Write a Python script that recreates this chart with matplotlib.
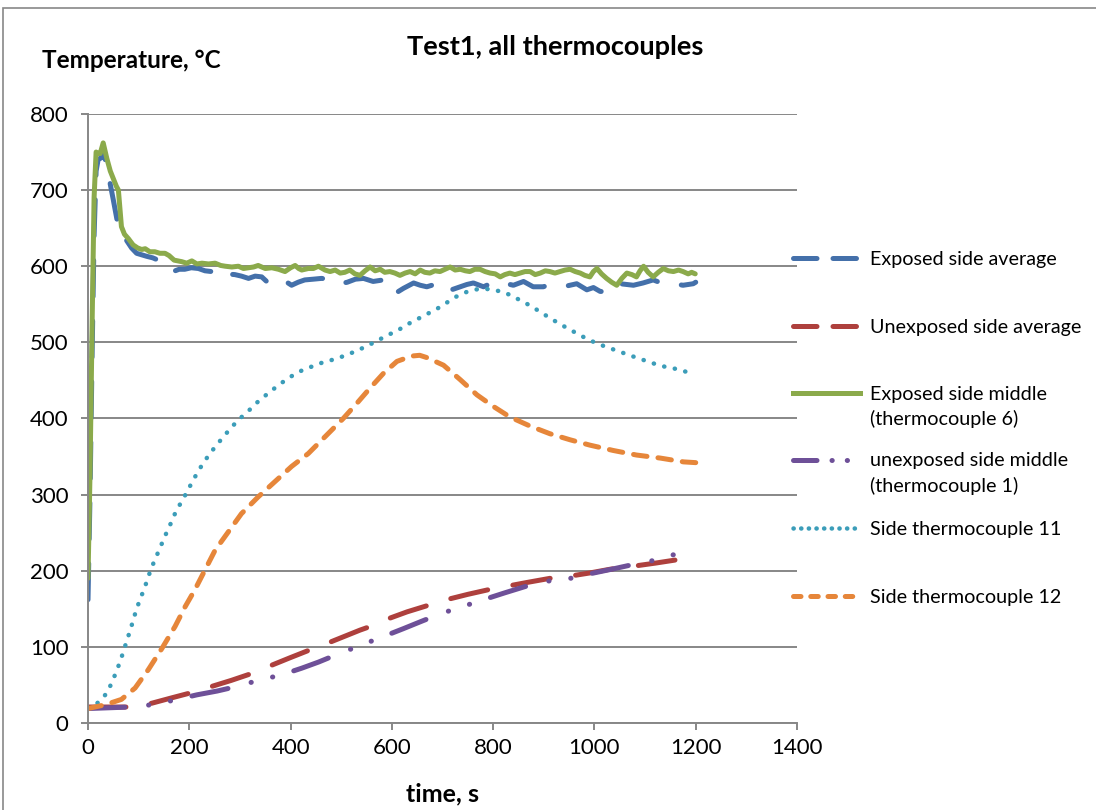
import numpy as np
import matplotlib
matplotlib.use("Agg")
import matplotlib.pyplot as plt
from matplotlib.lines import Line2D
from matplotlib.patches import Rectangle

plt.rcParams['font.family'] = ['Lato', 'DejaVu Sans']

# --- data ---
exp_avg_t = [0, 4, 8, 12, 16, 20, 25, 30, 37, 43, 50, 57, 63, 70, 76, 86, 96, 106, 116, 128,
             142, 155, 168, 180, 191, 204, 218, 231, 244, 257, 270, 290, 303, 317, 330, 343,
             356, 369, 382, 395, 402, 415, 428, 445, 461, 478, 498, 512, 528, 544, 563, 583,
             595, 606, 623, 643, 656, 669, 689, 708, 722, 735, 748, 761, 781, 794, 807, 820,
             840, 860, 879, 899, 912, 925, 945, 965, 985, 998, 1011, 1024, 1037, 1051, 1064,
             1077, 1096, 1116, 1136, 1156, 1175, 1195, 1200]
exp_avg_T = [162, 300, 480, 640, 725, 740, 742, 752, 731, 711, 687, 662, 643, 638, 634, 624,
             617, 615, 613, 611, 607, 603, 593, 596, 596, 598, 597, 594, 593, 586, 590, 589,
             587, 584, 587, 586, 578, 582, 583, 578, 575, 579, 582, 583, 584, 583, 577, 579,
             583, 584, 580, 582, 572, 564, 571, 578, 575, 573, 577, 567, 570, 573, 576, 578,
             573, 577, 580, 578, 575, 580, 573, 573, 576, 575, 574, 577, 569, 572, 567, 566,
             567, 577, 576, 575, 578, 582, 577, 577, 575, 577, 579]

unexp_avg_t = [0, 83, 126, 165, 205, 244, 283, 323, 363, 400, 438, 481, 537, 554, 593, 630,
               669, 708, 750, 790, 830, 870, 912, 952, 990, 1031, 1077, 1120, 1159]
unexp_avg_T = [21, 21, 26, 33, 40, 48, 56, 65, 76, 86, 96, 107, 122, 126, 137, 146, 154, 162,
               169, 175, 180, 185, 190, 193, 197, 202, 206, 210, 214]

exp_mid_t = [0, 4, 8, 12, 16, 20, 24, 30, 37, 44, 50, 56, 60, 66, 72, 80, 89, 98, 106, 113,
             122, 132, 142, 152, 160, 170, 185, 195, 205, 215, 225, 238, 251, 262, 271, 284,
             297, 307, 317, 327, 336, 350, 363, 376, 389, 400, 409, 416, 422, 435, 445, 455,
             468, 478, 488, 498, 507, 517, 527, 537, 547, 557, 567, 577, 586, 596, 606, 616,
             626, 636, 646, 656, 665, 675, 685, 695, 705, 715, 725, 735, 745, 754, 764, 774,
             784, 794, 804, 814, 823, 833, 843, 853, 863, 873, 883, 893, 903, 912, 922, 932,
             942, 952, 962, 972, 981, 991, 998, 1005, 1014, 1024, 1034, 1044, 1054, 1064,
             1074, 1083, 1090, 1097, 1106, 1116, 1126, 1136, 1146, 1156, 1166, 1175, 1185,
             1192, 1199]
exp_mid_T = [190, 330, 520, 690, 750, 748, 748, 762, 742, 725, 715, 705, 700, 652, 642, 636,
             628, 624, 622, 623, 619, 619, 617, 617, 614, 608, 606, 604, 607, 603, 604, 603,
             604, 601, 600, 599, 600, 597, 598, 599, 601, 597, 598, 596, 593, 598, 601, 597,
             595, 597, 597, 600, 595, 593, 595, 591, 592, 595, 590, 588, 594, 599, 594, 596,
             592, 593, 591, 588, 591, 593, 590, 595, 592, 591, 594, 593, 596, 599, 595, 596,
             594, 593, 596, 596, 593, 591, 590, 586, 589, 591, 589, 591, 593, 593, 589, 591,
             594, 593, 591, 593, 595, 596, 593, 591, 588, 586, 593, 597, 590, 584, 579, 575,
             584, 591, 589, 586, 594, 600, 592, 586, 592, 597, 594, 593, 595, 593, 590, 592,
             590]

unexp_mid_t = [0, 83, 126, 170, 215, 255, 294, 336, 381, 422, 455, 488, 538, 581, 623, 660,
               698, 740, 781, 823, 862, 902, 946, 991, 1034, 1075, 1113, 1156]
unexp_mid_T = [19, 21, 24, 30, 37, 42, 48, 56, 63, 72, 80, 89, 102, 113, 124, 134, 144, 153,
               162, 171, 179, 186, 189, 196, 202, 208, 213, 221]

tc11_t = [0, 10, 20, 37, 47, 55, 63, 70, 77, 84, 90, 97, 105, 113, 120, 128, 137, 146, 155,
          164, 173, 184, 195, 206, 217, 228, 242, 255, 270, 284, 300, 317, 332, 350, 367, 385,
          403, 422, 445, 465, 488, 509, 531, 550, 571, 590, 610, 629, 649, 669, 689, 708, 727,
          747, 770, 792, 814, 835, 854, 874, 893, 912, 932, 951, 970, 990, 1011, 1032, 1053,
          1074, 1096, 1118, 1139, 1162, 1183, 1200]
tc11_T = [20, 22, 27, 39, 53, 66, 80, 94, 109, 123, 137, 152, 166, 180, 194, 208, 222, 236,
          250, 263, 277, 290, 303, 317, 330, 342, 355, 366, 378, 389, 400, 410, 420, 430, 439,
          448, 456, 463, 469, 474, 478, 483, 489, 495, 502, 509, 515, 523, 530, 537, 544, 552,
          560, 566, 570, 570, 567, 562, 555, 548, 540, 532, 524, 517, 510, 503, 497, 492, 487,
          482, 477, 472, 468, 465, 461, 459]

tc12_t = [0, 34, 66, 93, 119, 146, 172, 192, 211, 231, 251, 277, 303, 336, 369, 402, 435,
          468, 504, 531, 557, 583, 610, 639, 655, 669, 702, 735, 768, 800, 833, 873, 912, 952,
          991, 1037, 1083, 1130, 1176, 1200]
tc12_T = [19, 24, 31, 46, 70, 98, 127, 153, 175, 201, 227, 251, 275, 297, 317, 337, 354, 376,
          400, 420, 440, 459, 475, 482, 483, 480, 470, 451, 431, 416, 402, 390, 380, 372, 365,
          358, 352, 348, 343, 342]

labels = ["Exposed side average", "Unexposed side average", "Exposed side middle",
          "unexposed side middle", "Side thermocouple 11", "Side thermocouple 12"]
second_lines = {2: "(thermocouple 6)", 3: "(thermocouple 1)"}

c_blue = "#4470AA"
c_red = "#AE403D"
c_green = "#8BAA4B"
c_purple = "#6E5098"
c_cyan = "#3B9DB9"
c_orange = "#E6863A"
grid_c = "#878787"
LW = 3.6

fig = plt.figure(figsize=(10.96, 8.10), dpi=100)
ax = fig.add_axes([0.0803, 0.1074, 0.6469, 0.7519])
ax.set_xlim(0, 1400)
ax.set_ylim(0, 800)


# stretch a dash pattern a little so the line finishes on a dash, like Excel does
def fit_dashes(x, y, pattern, end_phase, lw):
    pts = ax.transData.transform(np.column_stack([x, y]))
    length = np.sum(np.hypot(*np.diff(pts, axis=0).T))
    lw_px = lw * fig.dpi / 72
    period = sum(pattern) * lw_px
    n = max(1, round((length - end_phase * lw_px) / period))
    k = (length - end_phase * lw_px) / (n * period)
    return tuple(p * k for p in pattern)


long_dash = (7.4, 5.0)
dash_dot_dot = (7.4, 4.8, 0.05, 4.4, 0.05, 4.4)
dots = (0.05, 2.35)
short_dash = (2.7, 2.2)

ax.plot(exp_avg_t, exp_avg_T, color=c_blue, lw=LW,
        dashes=fit_dashes(exp_avg_t, exp_avg_T, long_dash, 3.0, LW),
        dash_capstyle='round', dash_joinstyle='round')
ax.plot(unexp_avg_t, unexp_avg_T, color=c_red, lw=LW,
        dashes=fit_dashes(unexp_avg_t, unexp_avg_T, long_dash, 7.4, LW),
        dash_capstyle='round')
ax.plot(exp_mid_t, exp_mid_T, color=c_green, lw=LW, solid_joinstyle='round',
        solid_capstyle='round')
ax.plot(unexp_mid_t, unexp_mid_T, color=c_purple, lw=LW,
        dashes=fit_dashes(unexp_mid_t, unexp_mid_T, dash_dot_dot, 7.4 + 4.8 + 0.05 + 4.4, LW),
        dash_capstyle='round')
ax.plot(tc11_t, tc11_T, color=c_cyan, lw=LW * 0.9,
        dashes=fit_dashes(tc11_t, tc11_T, dots, 0.0, LW * 0.9), dash_capstyle='round')
ax.plot(tc12_t, tc12_T, color=c_orange, lw=LW,
        dashes=fit_dashes(tc12_t, tc12_T, short_dash, 2.7, LW), dash_capstyle='round')

ax.set_xticks(range(0, 1401, 200))
ax.set_yticks(range(0, 801, 100))
ax.grid(axis='y', color=grid_c, lw=1.4)
ax.set_axisbelow(True)
for s in ['top', 'right']:
    ax.spines[s].set_visible(False)
for s in ['left', 'bottom']:
    ax.spines[s].set_color(grid_c)
    ax.spines[s].set_linewidth(1.4)
ax.tick_params(axis='both', direction='out', length=5, width=1.4, color=grid_c,
               labelsize=16, labelcolor='black')
ax.tick_params(axis='y', pad=9)
ax.tick_params(axis='x', pad=6)

fig.text(555 / 1096, 1 - 47 / 810, "Test1, all thermocouples", ha='center', va='center',
         fontsize=19.5, fontweight='bold')
fig.text(42 / 1096, 1 - 61 / 810, "Temperature, °C", ha='left', va='center',
         fontsize=17.5, fontweight='bold')
fig.text(442 / 1096, 1 - 794 / 810, "time, s", ha='center', va='center',
         fontsize=18, fontweight='bold')

# legend, one entry per row as in the spreadsheet layout
proxies = [
    Line2D([], [], color=c_blue, lw=LW, dashes=(4.7, 3.2), dash_capstyle='round'),
    Line2D([], [], color=c_red, lw=LW, dashes=(4.7, 3.2), dash_capstyle='round'),
    Line2D([], [], color=c_green, lw=LW),
    Line2D([], [], color=c_purple, lw=LW, dashes=(4.7, 3.0, 0.05, 3.0, 0.05, 3.0),
           dash_capstyle='round'),
    Line2D([], [], color=c_cyan, lw=LW * 0.9, dashes=(0.05, 1.65), dash_capstyle='round'),
    Line2D([], [], color=c_orange, lw=LW, dashes=(1.5, 1.95), dash_capstyle='round'),
]
row_y = [259, 327, 394, 461, 529, 597]
leg_fs = 14.2
fs_px = leg_fs * 100 / 72
for i, (h, lab, y) in enumerate(zip(proxies, labels, row_y)):
    fig.legend([h], [lab], loc='center left', bbox_to_anchor=(793 / 1096, 1 - y / 810),
               frameon=False, fontsize=leg_fs, borderpad=0, borderaxespad=0,
               handlelength=67 / fs_px, handletextpad=10 / fs_px)
    if i in second_lines:
        fig.text(870 / 1096, 1 - (y + 25) / 810, second_lines[i], ha='left', va='center',
                 fontsize=leg_fs)

fig.patches.append(Rectangle((3 / 1096, -0.1), 1.2, 1 - 8 / 810 + 0.1,
                             transform=fig.transFigure, fill=False,
                             edgecolor=grid_c, lw=1.2))

fig.savefig("out.png", dpi=100)
